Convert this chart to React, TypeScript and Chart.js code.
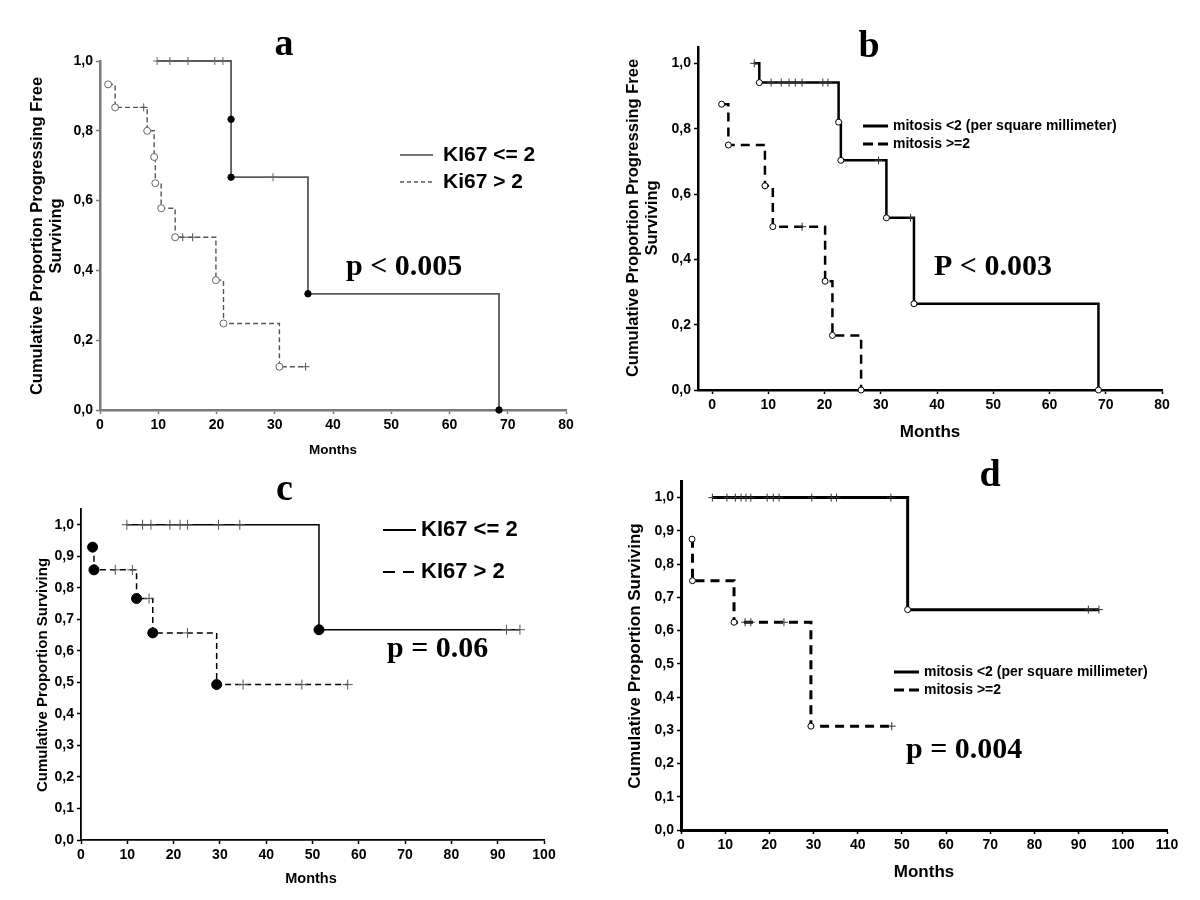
import React, { useEffect, useRef } from 'react';
import { Chart, registerables } from 'chart.js';

Chart.register(...registerables);

type P = [number, number];

const SANS = '"Liberation Sans", Arial, sans-serif';
const SERIF = '"Liberation Serif", "Times New Roman", serif';

// ---------- Panel a : KI67, progression free ----------
const A_X_RANGE = [0, 80];
const A_Y_RANGE = [0, 1.0];
const A_LOW_EVENTS: P[] = [[22.5, 0.833], [22.5, 0.667], [35.7, 0.333], [68.5, 0]];
const A_LOW_CENSORED: P[] = [[9.8, 1], [12.0, 1], [15.1, 1], [19.7, 1], [21.1, 1], [29.7, 0.667]];
const A_HIGH_EVENTS: P[] = [[1.4, 0.933], [2.6, 0.867], [8.1, 0.8], [9.3, 0.725], [9.5, 0.65], [10.5, 0.578], [12.9, 0.495], [19.9, 0.372], [21.2, 0.248], [30.8, 0.124]];
const A_HIGH_CENSORED: P[] = [[7.5, 0.867], [14.2, 0.495], [15.9, 0.495], [35.3, 0.124]];

// ---------- Panel b : mitosis, progression free ----------
const B_X_RANGE = [-2.5, 80];
const B_Y_RANGE = [0, 1.05];
const B_LOW_EVENTS: P[] = [[8.4, 0.941], [22.5, 0.82], [22.9, 0.703], [31.0, 0.527], [35.9, 0.264], [68.7, 0]];
const B_LOW_CENSORED: P[] = [[7.5, 1], [10.5, 0.941], [12.3, 0.941], [13.7, 0.941], [14.8, 0.941], [16.0, 0.941], [19.7, 0.941], [20.6, 0.941], [29.6, 0.703], [35.3, 0.527]];
const B_HIGH_EVENTS: P[] = [[1.7, 0.875], [2.9, 0.75], [9.4, 0.625], [10.8, 0.5], [20.1, 0.333], [21.4, 0.167], [26.5, 0]];
const B_HIGH_CENSORED: P[] = [[16.0, 0.5]];

// ---------- Panel c : KI67, overall survival ----------
const C_X_RANGE = [0, 100];
const C_Y_RANGE = [0, 1.05];
const C_LOW_EVENTS: P[] = [[51.4, 0.667]];
const C_LOW_CENSORED: P[] = [[9.9, 1], [13.3, 1], [15.1, 1], [19.2, 1], [21.4, 1], [23.0, 1], [29.7, 1], [34.3, 1], [91.9, 0.667], [94.8, 0.667]];
const C_HIGH_EVENTS: P[] = [[2.5, 0.929], [2.8, 0.857], [12.0, 0.766], [15.5, 0.657], [29.3, 0.493]];
const C_HIGH_CENSORED: P[] = [[7.4, 0.857], [11.1, 0.857], [14.7, 0.766], [23.0, 0.657], [35.0, 0.493], [47.7, 0.493], [57.6, 0.493]];

// ---------- Panel d : mitosis, overall survival ----------
const D_X_RANGE = [0, 110];
const D_Y_RANGE = [0, 1.05];
const D_LOW_EVENTS: P[] = [[51.3, 0.663]];
const D_LOW_CENSORED: P[] = [[7.1, 1], [10.4, 1], [12.3, 1], [13.6, 1], [14.7, 1], [15.8, 1], [19.5, 1], [20.9, 1], [22.2, 1], [29.6, 1], [34.0, 1], [35.2, 1], [47.5, 1], [92.2, 0.663], [94.6, 0.663]];
const D_HIGH_EVENTS: P[] = [[2.5, 0.875], [2.6, 0.75], [12.0, 0.625], [29.4, 0.3125]];
const D_HIGH_CENSORED: P[] = [[14.5, 0.625], [15.8, 0.625], [23.3, 0.625], [47.7, 0.3125]];

const LABEL_KI_LOW = 'KI67 <= 2';
const LABEL_KI_HIGH_A = 'Ki67 > 2';
const LABEL_KI_HIGH_C = 'KI67 > 2';
const LABEL_MIT_LOW = 'mitosis <2 (per square millimeter)';
const LABEL_MIT_HIGH = 'mitosis >=2';
const TITLE_PFS = ['Cumulative Proportion Progressing Free', 'Surviving'];
const TITLE_OS = ['Cumulative Proportion Surviving'];

interface Curve {
  events: P[];
  censors: P[];
  color: string;
  width: number;
  dash: number[];
  filled: boolean;
  eventRadius: number;
  eventColor: string;
  censorRadius: number;
  censorColor: string;
}
interface Txt {
  text: string;
  x: number;
  y: number;
  font: string;
  align: CanvasTextAlign;
  baseline: CanvasTextBaseline;
  rotate?: boolean;
}
interface Leg {
  x1: number;
  x2: number;
  y: number;
  tx: number;
  color: string;
  width: number;
  dash: number[];
  label: string;
  font: string;
}
interface Panel {
  id: string;
  origin: [number, number];
  size: [number, number];
  plot: { L: number; R: number; T: number; B: number };
  xRange: number[];
  yRange: number[];
  xStep: number;
  yStep: number;
  axisColor: string;
  axisWidth: number;
  curves: Curve[];
  texts: Txt[];
  legend: Leg[];
}

const PANELS: Panel[] = [
  {
    id: 'a',
    origin: [0, 0],
    size: [600, 470],
    plot: { L: 100, R: 566, T: 61, B: 410 },
    xRange: A_X_RANGE,
    yRange: A_Y_RANGE,
    xStep: 10,
    yStep: 0.2,
    axisColor: '#7a7a7a',
    axisWidth: 2.5,
    curves: [
      { events: A_LOW_EVENTS, censors: A_LOW_CENSORED, color: '#5a5a5a', width: 1.8, dash: [], filled: true, eventRadius: 3.2, eventColor: '#000', censorRadius: 4, censorColor: '#666' },
      { events: A_HIGH_EVENTS, censors: A_HIGH_CENSORED, color: '#555', width: 1.4, dash: [5, 3], filled: false, eventRadius: 3.5, eventColor: '#666', censorRadius: 4, censorColor: '#555' },
    ],
    texts: [
      { text: 'a', x: 284, y: 55, font: `bold 38px ${SERIF}`, align: 'center', baseline: 'alphabetic' },
      { text: 'p < 0.005', x: 346, y: 275, font: `bold 30px ${SERIF}`, align: 'left', baseline: 'alphabetic' },
      { text: 'Months', x: 333, y: 450, font: `bold 13.5px ${SANS}`, align: 'center', baseline: 'middle' },
      { text: TITLE_PFS[0], x: 37, y: 236, font: `bold 16.5px ${SANS}`, align: 'center', baseline: 'middle', rotate: true },
      { text: TITLE_PFS[1], x: 56, y: 236, font: `bold 16.5px ${SANS}`, align: 'center', baseline: 'middle', rotate: true },
    ],
    legend: [
      { x1: 400, x2: 433, y: 155, tx: 443, color: '#777', width: 2, dash: [], label: LABEL_KI_LOW, font: `bold 21px ${SANS}` },
      { x1: 400, x2: 433, y: 182, tx: 443, color: '#555', width: 1.3, dash: [4, 3], label: LABEL_KI_HIGH_A, font: `bold 21px ${SANS}` },
    ],
  },
  {
    id: 'b',
    origin: [600, 0],
    size: [600, 470],
    plot: { L: 698, R: 1162, T: 47, B: 390 },
    xRange: B_X_RANGE,
    yRange: B_Y_RANGE,
    xStep: 10,
    yStep: 0.2,
    axisColor: '#000',
    axisWidth: 2.5,
    curves: [
      { events: B_LOW_EVENTS, censors: B_LOW_CENSORED, color: '#000', width: 2.5, dash: [], filled: false, eventRadius: 3, eventColor: '#000', censorRadius: 4, censorColor: '#333' },
      { events: B_HIGH_EVENTS, censors: B_HIGH_CENSORED, color: '#000', width: 2.5, dash: [9, 6], filled: false, eventRadius: 3, eventColor: '#000', censorRadius: 4, censorColor: '#333' },
    ],
    texts: [
      { text: 'b', x: 869, y: 57, font: `bold 38px ${SERIF}`, align: 'center', baseline: 'alphabetic' },
      { text: 'P < 0.003', x: 934, y: 275, font: `bold 30px ${SERIF}`, align: 'left', baseline: 'alphabetic' },
      { text: 'Months', x: 930, y: 432, font: `bold 17px ${SANS}`, align: 'center', baseline: 'middle' },
      { text: TITLE_PFS[0], x: 633, y: 218, font: `bold 16.5px ${SANS}`, align: 'center', baseline: 'middle', rotate: true },
      { text: TITLE_PFS[1], x: 652, y: 218, font: `bold 16.5px ${SANS}`, align: 'center', baseline: 'middle', rotate: true },
    ],
    legend: [
      { x1: 863, x2: 888, y: 126, tx: 893, color: '#000', width: 3, dash: [], label: LABEL_MIT_LOW, font: `bold 14px ${SANS}` },
      { x1: 863, x2: 888, y: 144, tx: 893, color: '#000', width: 3, dash: [10, 5], label: LABEL_MIT_HIGH, font: `bold 14px ${SANS}` },
    ],
  },
  {
    id: 'c',
    origin: [0, 450],
    size: [600, 450],
    plot: { L: 81, R: 544, T: 509, B: 840 },
    xRange: C_X_RANGE,
    yRange: C_Y_RANGE,
    xStep: 10,
    yStep: 0.1,
    axisColor: '#000',
    axisWidth: 1.8,
    curves: [
      { events: C_LOW_EVENTS, censors: C_LOW_CENSORED, color: '#000', width: 1.5, dash: [], filled: true, eventRadius: 5, eventColor: '#000', censorRadius: 5, censorColor: '#555' },
      { events: C_HIGH_EVENTS, censors: C_HIGH_CENSORED, color: '#000', width: 1.5, dash: [6, 4], filled: true, eventRadius: 5, eventColor: '#000', censorRadius: 5, censorColor: '#555' },
    ],
    texts: [
      { text: 'c', x: 284.5, y: 500, font: `bold 38px ${SERIF}`, align: 'center', baseline: 'alphabetic' },
      { text: 'p = 0.06', x: 387, y: 657, font: `bold 30px ${SERIF}`, align: 'left', baseline: 'alphabetic' },
      { text: 'Months', x: 311, y: 879, font: `bold 14.5px ${SANS}`, align: 'center', baseline: 'middle' },
      { text: TITLE_OS[0], x: 43, y: 675, font: `bold 15px ${SANS}`, align: 'center', baseline: 'middle', rotate: true },
    ],
    legend: [
      { x1: 383, x2: 416, y: 530, tx: 421, color: '#000', width: 2, dash: [], label: LABEL_KI_LOW, font: `bold 22px ${SANS}` },
      { x1: 383, x2: 414, y: 572, tx: 421, color: '#000', width: 2, dash: [12, 8], label: LABEL_KI_HIGH_C, font: `bold 22px ${SANS}` },
    ],
  },
  {
    id: 'd',
    origin: [600, 450],
    size: [600, 450],
    plot: { L: 681, R: 1167, T: 481, B: 830 },
    xRange: D_X_RANGE,
    yRange: D_Y_RANGE,
    xStep: 10,
    yStep: 0.1,
    axisColor: '#000',
    axisWidth: 3,
    curves: [
      { events: D_LOW_EVENTS, censors: D_LOW_CENSORED, color: '#000', width: 3, dash: [], filled: false, eventRadius: 3, eventColor: '#000', censorRadius: 4, censorColor: '#333' },
      { events: D_HIGH_EVENTS, censors: D_HIGH_CENSORED, color: '#000', width: 3, dash: [9, 6], filled: false, eventRadius: 3, eventColor: '#000', censorRadius: 4, censorColor: '#333' },
    ],
    texts: [
      { text: 'd', x: 990, y: 486, font: `bold 38px ${SERIF}`, align: 'center', baseline: 'alphabetic' },
      { text: 'p = 0.004', x: 906, y: 758, font: `bold 30px ${SERIF}`, align: 'left', baseline: 'alphabetic' },
      { text: 'Months', x: 924, y: 872, font: `bold 17px ${SANS}`, align: 'center', baseline: 'middle' },
      { text: TITLE_OS[0], x: 635, y: 656, font: `bold 17px ${SANS}`, align: 'center', baseline: 'middle', rotate: true },
    ],
    legend: [
      { x1: 894, x2: 919, y: 672, tx: 924, color: '#000', width: 3, dash: [], label: LABEL_MIT_LOW, font: `bold 14px ${SANS}` },
      { x1: 894, x2: 919, y: 690, tx: 924, color: '#000', width: 3, dash: [10, 5], label: LABEL_MIT_HIGH, font: `bold 14px ${SANS}` },
    ],
  },
];

const Y_AXIS_W = 40;
const X_AXIS_H = 30;

function toPts(arr: P[]) {
  return arr.map(([x, y]) => ({ x, y }));
}

function annotationPlugin(p: Panel) {
  return {
    id: 'annot_' + p.id,
    afterDraw(chart: any) {
      const ctx: CanvasRenderingContext2D = chart.ctx;
      const [ox, oy] = p.origin;
      ctx.save();
      for (const l of p.legend) {
        ctx.beginPath();
        ctx.strokeStyle = l.color;
        ctx.lineWidth = l.width;
        ctx.setLineDash(l.dash);
        ctx.moveTo(l.x1 - ox, l.y - oy);
        ctx.lineTo(l.x2 - ox, l.y - oy);
        ctx.stroke();
        ctx.setLineDash([]);
        ctx.font = l.font;
        ctx.fillStyle = '#000';
        ctx.textAlign = 'left';
        ctx.textBaseline = 'middle';
        ctx.fillText(l.label, l.tx - ox, l.y - oy);
      }
      for (const t of p.texts) {
        ctx.save();
        ctx.font = t.font;
        ctx.fillStyle = '#000';
        ctx.textAlign = t.align;
        ctx.textBaseline = t.baseline;
        ctx.translate(t.x - ox, t.y - oy);
        if (t.rotate) ctx.rotate(-Math.PI / 2);
        ctx.fillText(t.text, 0, 0);
        ctx.restore();
      }
      ctx.restore();
    },
  };
}

function buildChart(canvas: HTMLCanvasElement, p: Panel) {
  const [ox, oy] = p.origin;
  const [w, h] = p.size;
  const datasets: any[] = [];
  p.curves.forEach((c) => {
    const pts = [...toPts(c.events), ...toPts(c.censors)].sort((a, b) => a.x - b.x || b.y - a.y);
    datasets.push({
      type: 'line',
      data: pts,
      borderColor: c.color,
      borderWidth: c.width,
      borderDash: c.dash,
      stepped: 'before',
      pointRadius: 0,
      fill: false,
      order: 3,
      clip: false,
    });
    datasets.push({
      type: 'line',
      data: toPts(c.censors),
      showLine: false,
      pointStyle: 'cross',
      pointRadius: c.censorRadius,
      pointBorderColor: c.censorColor,
      pointBorderWidth: 1,
      order: 2,
      clip: false,
    });
    datasets.push({
      type: 'line',
      data: toPts(c.events),
      showLine: false,
      pointStyle: 'circle',
      pointRadius: c.eventRadius,
      pointBackgroundColor: c.filled ? c.eventColor : '#fff',
      pointBorderColor: c.eventColor,
      pointBorderWidth: 1,
      order: 1,
      clip: false,
    });
  });

  const tickFont = { family: SANS, weight: 'bold' as const, size: 14 };
  const grid = {
    display: true,
    drawOnChartArea: false,
    drawTicks: true,
    tickLength: 4,
    tickColor: p.axisColor,
    tickWidth: 1.5,
    color: p.axisColor,
  };
  const border = { display: true, color: p.axisColor, width: p.axisWidth };

  return new Chart(canvas, {
    type: 'line',
    data: { datasets },
    plugins: [annotationPlugin(p)],
    options: {
      responsive: false,
      animation: false,
      events: [],
      layout: {
        padding: {
          left: p.plot.L - ox - Y_AXIS_W,
          right: ox + w - p.plot.R,
          top: p.plot.T - oy,
          bottom: oy + h - p.plot.B - X_AXIS_H,
        },
      },
      plugins: {
        legend: { display: false },
        tooltip: { enabled: false },
        title: { display: false },
      },
      scales: {
        x: {
          type: 'linear',
          min: p.xRange[0],
          max: p.xRange[1],
          afterFit: (s: any) => {
            s.height = X_AXIS_H;
          },
          border,
          grid,
          ticks: {
            stepSize: p.xStep,
            includeBounds: false,
            font: tickFont,
            color: '#000',
            padding: 3,
            maxRotation: 0,
            autoSkip: false,
          },
        },
        y: {
          type: 'linear',
          min: p.yRange[0],
          max: p.yRange[1],
          afterFit: (s: any) => {
            s.width = Y_AXIS_W;
          },
          border,
          grid,
          ticks: {
            stepSize: p.yStep,
            includeBounds: false,
            font: tickFont,
            color: '#000',
            padding: 3,
            autoSkip: false,
            callback: (v: any) => Number(v).toFixed(1).replace('.', ','),
          },
        },
      },
    } as any,
  });
}

export default function App() {
  const refs = useRef<(HTMLCanvasElement | null)[]>([]);
  useEffect(() => {
    const charts = PANELS.map((p, i) => buildChart(refs.current[i] as HTMLCanvasElement, p));
    return () => charts.forEach((c) => c.destroy());
  }, []);
  return (
    <div
      style={{
        position: 'absolute',
        left: 0,
        top: 0,
        width: 1200,
        height: 900,
        background: '#fff',
        overflow: 'hidden',
      }}
    >
      {PANELS.map((p, i) => (
        <canvas
          key={p.id}
          ref={(el) => {
            refs.current[i] = el;
          }}
          width={p.size[0]}
          height={p.size[1]}
          style={{ position: 'absolute', left: p.origin[0], top: p.origin[1], width: p.size[0], height: p.size[1] }}
        />
      ))}
    </div>
  );
}
